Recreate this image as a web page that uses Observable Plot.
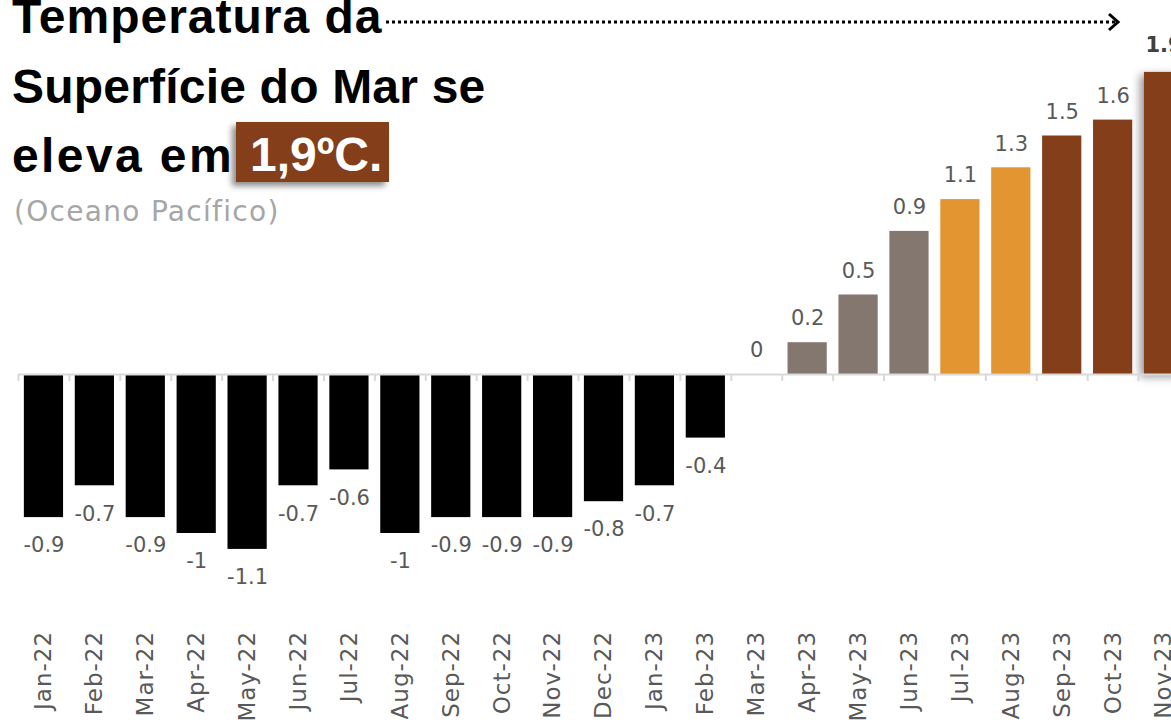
<!DOCTYPE html>
<html>
<head>
<meta charset="utf-8">
<script src="https://cdn.jsdelivr.net/npm/d3@7"></script>
<script src="https://cdn.jsdelivr.net/npm/@observablehq/plot@0.6"></script>
<style>
  html, body { margin: 0; padding: 0; background: #fff; }
  #wrap { position: relative; width: 1171px; height: 725px; overflow: hidden; background: #fff; }
  #chart { position: absolute; left: 0; top: 0; }
  #chart svg { max-width: none !important; }
  #chart g[aria-label="x-axis tick label"] text { letter-spacing: 1px; }
  .tline { position: absolute; left: 12px; font-family: "Liberation Sans", Arial, sans-serif; font-weight: bold;
           font-size: 48px; line-height: 48px; color: #000; white-space: nowrap; }
  .hl { position: absolute; left: 236px; top: 122px; width: 153px; height: 60px; background: #843F1A;
        box-shadow: -4px 4px 6px rgba(0,0,0,0.45); box-sizing: border-box; padding-left: 14px; padding-top: 9px;
        font-family: "Liberation Sans", Arial, sans-serif; font-weight: bold; font-size: 48px; line-height: 48px;
        color: #fff; white-space: nowrap; }
  .sub { position: absolute; left: 14px; top: 198px; font-family: "DejaVu Sans", sans-serif; font-size: 28px;
         line-height: 28px; color: #a6a6a6; white-space: nowrap; letter-spacing: 1.3px; }
  #arrow { position: absolute; left: 0; top: 0; }
</style>
</head>
<body>
<div id="wrap">
  <div id="chart"></div>
  <div class="tline" style="top:-7px; letter-spacing: 1px;">Temperatura da</div>
  <div class="tline" style="top:63px; letter-spacing: 0.2px;">Superfície do Mar se</div>
  <div class="tline" style="top:132px; letter-spacing: 2.4px;">eleva em</div>
  <div class="hl">1,9ºC.</div>
  <div class="sub">(Oceano Pacífico)</div>
  <svg id="arrow" width="1171" height="60">
    <line x1="386" y1="22" x2="1116" y2="22" stroke="#000" stroke-width="3" stroke-dasharray="3,3"/>
    <polyline points="1109,14 1118,22 1109,30" fill="none" stroke="#000" stroke-width="3"/>
  </svg>
</div>
<script>
// ---- data ----
const months = ["Jan-22","Feb-22","Mar-22","Apr-22","May-22","Jun-22","Jul-22","Aug-22","Sep-22","Oct-22","Nov-22","Dec-22",
                "Jan-23","Feb-23","Mar-23","Apr-23","May-23","Jun-23","Jul-23","Aug-23","Sep-23","Oct-23","Nov-23"];
const anomalies = [-0.9,-0.7,-0.9,-1,-1.1,-0.7,-0.6,-1,-0.9,-0.9,-0.9,-0.8,
                   -0.7,-0.4,0,0.2,0.5,0.9,1.1,1.3,1.5,1.6,1.9];
const tiers = ["neg","neg","neg","neg","neg","neg","neg","neg","neg","neg","neg","neg",
               "neg","neg","low","low","low","low","mid","mid","high","high","high"];
const tierNames = ["neg","low","mid","high"];
const tierColors = ["#000000","#84776F","#E39531","#843F1A"];
const highlightMonth = "Nov-23";

const data = months.map((m, i) => ({month: m, value: anomalies[i], tier: tiers[i]}));

// ---- layout ----
const W = 1189, H = 725, mL = 18, mR = 0, mT = 24.2, mB = 96.6;
const step = (W - mL - mR) / months.length;

const chart = Plot.plot({
  width: W,
  height: H,
  marginLeft: mL,
  marginRight: mR,
  marginTop: mT,
  marginBottom: mB,
  style: {fontFamily: "DejaVu Sans, sans-serif", background: "transparent", maxWidth: "none", overflow: "visible"},
  x: {domain: months, paddingInner: 0.23, paddingOuter: 0.115, round: false, axis: null},
  y: {domain: [-1.6, 2.2], axis: null},
  color: {domain: tierNames, range: tierColors},
  marks: [
    Plot.barY(data.filter(d => d.month !== highlightMonth), {x: "month", y: "value", fill: "tier"}),
    Plot.barY(data.filter(d => d.month === highlightMonth), {x: "month", y: "value", fill: "tier"}),
    Plot.ruleY([0], {stroke: "#d9d9d9", strokeWidth: 2}),
    Plot.ruleX(months, {x: d => d, y1: 0, y2: 0, insetBottom: -7, dx: -step / 2, stroke: "#d9d9d9", strokeWidth: 2}),
    Plot.text(data.filter(d => d.value >= 0 && d.month !== highlightMonth),
      {x: "month", y: "value", text: d => String(d.value), dy: -24, fontSize: 21, fill: "#595959"}),
    Plot.text(data.filter(d => d.value < 0),
      {x: "month", y: "value", text: d => String(d.value), dy: 28, fontSize: 21, fill: "#595959"}),
    Plot.text(data.filter(d => d.month === highlightMonth),
      {x: "month", y: "value", text: d => String(d.value), dy: -27, fontSize: 21, fontWeight: "bold", fill: "#404040"}),
    Plot.axisX({tickSize: 0, tickRotate: -90, tickPadding: 2, fontSize: 23, color: "#595959", label: null})
  ]
});
document.getElementById("chart").appendChild(chart);
// drop shadow on the highlighted bar
const barGroups = chart.querySelectorAll('g[aria-label="bar"]');
if (barGroups.length > 1) barGroups[barGroups.length - 1].style.filter = "drop-shadow(-4px 3px 4px rgba(0,0,0,0.4))";
</script>
</body>
</html>
